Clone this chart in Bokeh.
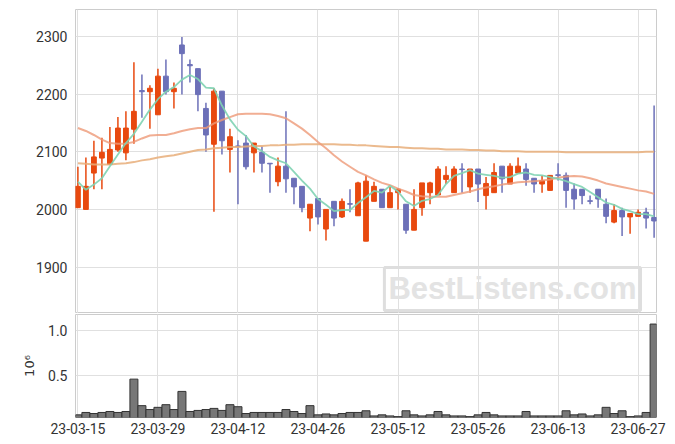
from bokeh.plotting import figure
from bokeh.layouts import column
from bokeh.models import FixedTicker, Range1d, ColumnDataSource, Label
from bokeh.embed import file_html
from bokeh.resources import INLINE

# KRX trading days 2023-03-15 .. 2023-06-29
dates = [
    "2023-03-15", "2023-03-16", "2023-03-17", "2023-03-20", "2023-03-21", "2023-03-22", "2023-03-23",
    "2023-03-24", "2023-03-27", "2023-03-28", "2023-03-29", "2023-03-30", "2023-03-31",
    "2023-04-03", "2023-04-04", "2023-04-05", "2023-04-06", "2023-04-07", "2023-04-10", "2023-04-11",
    "2023-04-12", "2023-04-13", "2023-04-14", "2023-04-17", "2023-04-18", "2023-04-19", "2023-04-20",
    "2023-04-21", "2023-04-24", "2023-04-25", "2023-04-26", "2023-04-27", "2023-04-28",
    "2023-05-02", "2023-05-03", "2023-05-04", "2023-05-08", "2023-05-09", "2023-05-10", "2023-05-11",
    "2023-05-12", "2023-05-15", "2023-05-16", "2023-05-17", "2023-05-18", "2023-05-19", "2023-05-22",
    "2023-05-23", "2023-05-24", "2023-05-25", "2023-05-26", "2023-05-30", "2023-05-31",
    "2023-06-01", "2023-06-02", "2023-06-05", "2023-06-07", "2023-06-08", "2023-06-09", "2023-06-12",
    "2023-06-13", "2023-06-14", "2023-06-15", "2023-06-16", "2023-06-19", "2023-06-20", "2023-06-21",
    "2023-06-22", "2023-06-23", "2023-06-26", "2023-06-27", "2023-06-28", "2023-06-29",
]

opens = [2003, 2000, 2063, 2089, 2078, 2103, 2098, 2139, 2206, 2204,
         2164, 2231, 2204, 2285, 2251, 2244, 2175, 2113, 2205, 2104,
         2110, 2115, 2098, 2099, 2080, 2048, 2075, 2054, 2040, 1985,
         2019, 1966, 2014, 1987, 2010, 1989, 1945, 2014, 2035, 2003,
         2029, 2009, 1964, 2003, 2029, 2025, 2052, 2029, 2070, 2039,
         2070, 2024, 2029, 2075, 2044, 2063, 2070, 2054, 2044, 2033,
         2060, 2059, 2035, 2035, 2015, 2035, 2009, 1978, 1998, 1987,
         1988, 1995, 1986]
highs = [2074, 2090, 2119, 2124, 2143, 2160, 2170, 2255, 2234, 2215,
         2244, 2260, 2220, 2299, 2260, 2244, 2185, 2210, 2205, 2140,
         2120, 2129, 2115, 2109, 2080, 2090, 2170, 2054, 2040, 2009,
         2019, 2000, 2014, 2019, 2035, 2048, 2059, 2048, 2035, 2039,
         2037, 2009, 2035, 2046, 2048, 2075, 2075, 2075, 2080, 2070,
         2070, 2056, 2080, 2075, 2080, 2090, 2080, 2054, 2059, 2059,
         2080, 2064, 2045, 2035, 2024, 2035, 2019, 2009, 2003, 1993,
         2000, 2003, 2180]
lows = [2003, 2000, 2035, 2035, 2078, 2100, 2085, 2114, 2159, 2140,
        2164, 2199, 2175, 2199, 2220, 2170, 2100, 1996, 2095, 2064,
        2009, 2069, 2064, 2064, 2029, 2040, 2029, 2009, 1995, 1962,
        1974, 1946, 1971, 1985, 1995, 1989, 1945, 2014, 2003, 2003,
        2000, 1958, 1964, 1989, 2009, 2025, 2044, 2029, 2029, 2029,
        2013, 2000, 2029, 2029, 2044, 2063, 2041, 2029, 2029, 2033,
        2050, 2003, 2000, 2009, 2009, 2003, 1976, 1976, 1954, 1958,
        1988, 1967, 1951]
closes = [2040, 2040, 2091, 2099, 2104, 2141, 2141, 2170, 2204, 2210,
          2231, 2204, 2210, 2270, 2249, 2199, 2129, 2205, 2119, 2126,
          2109, 2074, 2115, 2080, 2079, 2075, 2053, 2039, 2003, 2009,
          1987, 2000, 1985, 2014, 2009, 2046, 2049, 2040, 2003, 2029,
          2035, 1964, 2000, 2046, 2046, 2070, 2059, 2070, 2069, 2070,
          2044, 2045, 2064, 2053, 2075, 2075, 2052, 2044, 2050, 2059,
          2059, 2033, 2018, 2024, 2014, 2018, 1988, 1998, 1987, 1993,
          1995, 1985, 1980]
volumes = [50, 77, 65, 77, 88, 77, 88, 454, 154, 110,
           135, 165, 110, 315, 88, 100, 110, 123, 100, 165,
           142, 65, 77, 77, 77, 77, 110, 88, 65, 154,
           50, 60, 50, 65, 77, 77, 96, 38, 50, 38,
           30, 96, 50, 38, 50, 88, 50, 38, 38, 30,
           50, 77, 50, 38, 38, 38, 88, 38, 38, 38,
           38, 96, 50, 60, 38, 50, 135, 65, 96, 30,
           38, 77, 1077]  # thousands of shares
ma5 = [2048, 2034, 2043, 2054, 2075, 2095, 2115, 2131, 2152, 2173,
       2191, 2204, 2212, 2225, 2233, 2226, 2211, 2210, 2180, 2156,
       2138, 2127, 2109, 2101, 2091, 2085, 2080, 2065, 2050, 2036,
       2018, 2008, 1997, 1999, 1999, 2011, 2021, 2032, 2029, 2041,
       2031, 2014, 2006, 2015, 2018, 2025, 2044, 2058, 2063, 2068,
       2062, 2060, 2058, 2055, 2056, 2062, 2064, 2060, 2059, 2056,
       2053, 2049, 2044, 2039, 2030, 2021, 2012, 2008, 2001, 1997,
       1992, 1992, 1988]
ma20 = [2141, 2136, 2129, 2121, 2115, 2114, 2114, 2117, 2123, 2128,
        2129, 2129, 2132, 2136, 2139, 2141, 2141, 2149, 2155, 2160,
        2165, 2166, 2166, 2166, 2165, 2162, 2158, 2149, 2140, 2129,
        2117, 2106, 2094, 2083, 2074, 2065, 2059, 2052, 2046, 2042,
        2036, 2031, 2025, 2023, 2022, 2022, 2022, 2025, 2028, 2031,
        2035, 2038, 2040, 2043, 2045, 2047, 2048, 2049, 2050, 2052,
        2055, 2057, 2058, 2057, 2054, 2050, 2045, 2042, 2039, 2036,
        2033, 2031, 2027]
ma60 = [2080, 2079, 2078, 2078, 2078, 2079, 2080, 2082, 2085, 2087,
        2090, 2092, 2094, 2097, 2100, 2103, 2104, 2106, 2107, 2108,
        2108, 2109, 2110, 2110, 2111, 2111, 2112, 2112, 2113, 2113,
        2113, 2113, 2113, 2112, 2112, 2111, 2111, 2110, 2109, 2108,
        2108, 2107, 2106, 2106, 2105, 2105, 2104, 2104, 2104, 2103,
        2103, 2102, 2102, 2101, 2101, 2101, 2100, 2100, 2100, 2100,
        2100, 2099, 2099, 2099, 2099, 2099, 2099, 2099, 2099, 2099,
        2099, 2100, 2100]
price_ticks = [1900, 2000, 2100, 2200, 2300]
volume_ticks = [500000, 1000000]
volume_tick_labels = ["0.5", "1.0"]

UP = "#e8490f"
DOWN = "#6c70b8"
FONT = "Roboto"

idx = list(range(len(dates)))
tick_idx = idx[::10]
tick_labels = {i: dates[i][2:] for i in tick_idx}

src = ColumnDataSource(dict(
    x=idx, open=opens, high=highs, low=lows, close=closes,
    top=[max(o, c) for o, c in zip(opens, closes)],
    bottom=[min(o, c) for o, c in zip(opens, closes)],
    color=[UP if c > o else DOWN for o, c in zip(opens, closes)],
    vol=[v * 1000 for v in volumes],
    ma5=ma5, ma20=ma20, ma60=ma60,
))

xr = Range1d(-0.3, 72.3)

p = figure(width=668, height=313, x_range=xr, y_range=Range1d(1819.6, 2346.5),
           output_backend="svg", toolbar_location=None,
           min_border_left=75, min_border_right=12, min_border_top=9, min_border_bottom=0)
p.xaxis.visible = False
p.xgrid.ticker = FixedTicker(ticks=tick_idx)
p.yaxis.ticker = FixedTicker(ticks=price_ticks)

p.segment(x0="x", y0="low", x1="x", y1="high", color="color", line_width=1.5, source=src)
p.vbar(x="x", top="top", bottom="bottom", width=0.6, fill_color="color", line_color="color",
       line_width=1, source=src)
p.line(x="x", y="ma60", color="#e8ae7a", line_width=2, line_alpha=0.85, source=src)
p.line(x="x", y="ma20", color="#ee9a78", line_width=2, line_alpha=0.8, source=src)
p.line(x="x", y="ma5", color="#80d3b3", line_width=1.8, line_alpha=0.9, source=src)

wm = Label(x=38.3, y=1825, x_units="data", y_units="data", text="BestListens.com",
           text_font="Liberation Sans", text_font_size="31px", text_font_style="bold",
           text_color="#e3e3e3", text_align="left", text_baseline="bottom",
           border_line_color="#dedede", border_line_width=3, padding=4)
p.add_layout(wm)

v = figure(width=668, height=123, x_range=xr, y_range=Range1d(20000, 1185000),
           output_backend="svg", toolbar_location=None,
           min_border_left=75, min_border_right=12, min_border_top=1, min_border_bottom=0)
v.vbar(x="x", top="vol", bottom=0, width=1.0, fill_color="#777777", line_color="#333333",
       line_width=1, source=src)
v.xaxis.ticker = FixedTicker(ticks=tick_idx)
v.xaxis.major_label_overrides = tick_labels
v.xgrid.ticker = FixedTicker(ticks=tick_idx)
v.yaxis.ticker = FixedTicker(ticks=volume_ticks)
v.yaxis.major_label_overrides = dict(zip(volume_ticks, volume_tick_labels))
v.yaxis.axis_label = "10⁶"
v.yaxis.axis_label_text_font_style = "normal"
v.yaxis.axis_label_text_font = "DejaVu Sans"
v.yaxis.axis_label_text_font_size = "13px"
v.yaxis.axis_label_text_color = "#333333"
v.yaxis.axis_label_standoff = 8

for fig in (p, v):
    fig.outline_line_color = "#cccccc"
    fig.grid.grid_line_color = "#e0e0e0"
    fig.grid.grid_line_width = 1
    for ax in fig.axis:
        ax.axis_line_color = None
        ax.major_tick_line_color = None
        ax.minor_tick_line_color = None
        ax.major_tick_out = 0
        ax.major_tick_in = 0
        ax.major_label_text_font = FONT
        ax.major_label_text_font_size = "14px"
        ax.major_label_text_color = "#333333"
    fig.yaxis.major_label_standoff = 8
    fig.xaxis.major_label_standoff = 5

layout = column(p, v, spacing=0)
open("out.html", "w").write(file_html(layout, INLINE))
